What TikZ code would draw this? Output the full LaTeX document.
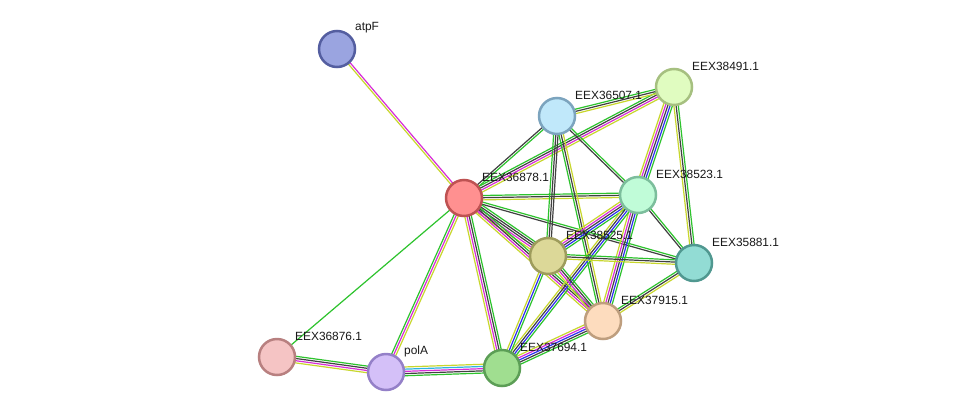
\documentclass[tikz,border=0pt]{standalone}
\usepackage{fontspec}
\setmainfont{Liberation Sans}
\usetikzlibrary{calc}
\pgfdeclarelayer{background}
\pgfsetlayers{background,main}
\definecolor{eg}{RGB}{45,195,45}
\definecolor{ey}{RGB}{200,215,45}
\definecolor{ek}{RGB}{65,65,65}
\definecolor{em}{RGB}{215,45,215}
\definecolor{eb}{RGB}{45,45,240}
\definecolor{ec}{RGB}{45,180,225}
\newcommand\bund[4]{%
  \foreach[count=\i] \c in {#4}{%
    \pgfmathsetmacro\oo{(\i-(#3+1)/2)*2.2}%
    \draw[\c,line width=1.2pt] ($(#1.center)!\oo pt!90:(#2.center)$) -- ($(#2.center)!\oo pt!-90:(#1.center)$);
  }}
\tikzset{
  prot/.style={circle,minimum size=36pt,inner sep=0pt,line width=2.5pt},
  lab/.style={anchor=west,font=\fontsize{11.9}{13}\selectfont,inner sep=0pt,text=black!90}
}
\begin{document}
\begin{tikzpicture}[x=1pt,y=-1pt]
\useasboundingbox (0,0) rectangle (976,418);
\node[prot,fill={rgb,255:red,154;green,164;blue,224},draw={rgb,255:red,84;green,94;blue,160}] (atpF) at (337,49) {};
\node[prot,fill={rgb,255:red,255;green,144;blue,144},draw={rgb,255:red,190;green,82;blue,82}] (n36878) at (464,198) {};
\node[prot,fill={rgb,255:red,192;green,232;blue,250},draw={rgb,255:red,124;green,164;blue,190}] (n36507) at (557,116) {};
\node[prot,fill={rgb,255:red,224;green,252;blue,192},draw={rgb,255:red,166;green,192;blue,128}] (n38491) at (674,87) {};
\node[prot,fill={rgb,255:red,192;green,252;blue,216},draw={rgb,255:red,124;green,190;blue,156}] (n38523) at (638,195) {};
\node[prot,fill={rgb,255:red,220;green,216;blue,152},draw={rgb,255:red,158;green,156;blue,92}] (n38525) at (548,256) {};
\node[prot,fill={rgb,255:red,146;green,220;blue,212},draw={rgb,255:red,80;green,152;blue,144}] (n35881) at (694,263) {};
\node[prot,fill={rgb,255:red,253;green,220;blue,190},draw={rgb,255:red,190;green,158;blue,126}] (n37915) at (603,321) {};
\node[prot,fill={rgb,255:red,160;green,222;blue,144},draw={rgb,255:red,92;green,158;blue,86}] (n37694) at (502,368) {};
\node[prot,fill={rgb,255:red,212;green,192;blue,248},draw={rgb,255:red,148;green,128;blue,200}] (polA) at (386,372) {};
\node[prot,fill={rgb,255:red,245;green,196;blue,196},draw={rgb,255:red,184;green,128;blue,128}] (n36876) at (277,357) {};
\begin{pgfonlayer}{background}
\fill[white] (0,0) rectangle (976,418);
\bund{atpF}{n36878}{2}{ey,em}
\bund{n36878}{n36507}{2}{eg,ek}
\bund{n36878}{n38491}{4}{ey,em,ek,eg}
\bund{n36878}{n38523}{3}{ey,ek,eg}
\bund{n36878}{n35881}{2}{ek,eg}
\bund{n36878}{n38525}{5}{ey,em,ek,ek,eg}
\bund{n36878}{n37915}{4}{ey,em,ek,eg}
\bund{n36878}{n37694}{4}{ey,em,ek,eg}
\bund{n36878}{polA}{3}{eg,em,ey}
\bund{n36878}{n36876}{1}{eg}
\bund{n36507}{n38491}{3}{ey,ek,eg}
\bund{n36507}{n38523}{2}{ek,eg}
\bund{n36507}{n38525}{3}{eg,ek,ek}
\bund{n36507}{n37915}{3}{eg,ek,ey}
\bund{n38491}{n38523}{5}{ey,em,ek,eb,eg}
\bund{n38491}{n35881}{3}{ey,ek,eg}
\bund{n38523}{n35881}{2}{ek,eg}
\bund{n38523}{n38525}{5}{ey,em,ek,eb,eg}
\bund{n38523}{n37915}{5}{ey,em,ek,eb,eg}
\bund{n38523}{n37694}{4}{ey,ek,eb,eg}
\bund{n38525}{n35881}{3}{ey,ek,eg}
\bund{n38525}{n37915}{4}{ey,em,ek,eg}
\bund{n38525}{n37694}{3}{ey,eb,eg}
\bund{n37915}{n35881}{3}{ey,ek,eg}
\bund{n37915}{n37694}{5}{ey,em,eb,ek,eg}
\bund{n36876}{polA}{4}{ey,em,ek,eg}
\bund{polA}{n37694}{5}{eg,ek,em,ec,ey}
\end{pgfonlayer}
\node[lab] (latpF) at ($(atpF)+(18,-21)$) {atpF};
\node[lab] (l36878) at ($(n36878)+(18,-21)$) {EEX36878.1};
\node[lab] (l36507) at ($(n36507)+(18,-21)$) {EEX36507.1};
\node[lab] (l38491) at ($(n38491)+(18,-21)$) {EEX38491.1};
\node[lab] (l38523) at ($(n38523)+(18,-21)$) {EEX38523.1};
\node[lab] (l38525) at ($(n38525)+(18,-21)$) {EEX38525.1};
\node[lab] (l35881) at ($(n35881)+(18,-21)$) {EEX35881.1};
\node[lab] (l37915) at ($(n37915)+(18,-21)$) {EEX37915.1};
\node[lab] (l37694) at ($(n37694)+(18,-21)$) {EEX37694.1};
\node[lab] (lpolA) at ($(polA)+(18,-21)$) {polA};
\node[lab] (l36876) at ($(n36876)+(18,-21)$) {EEX36876.1};
\end{tikzpicture}
\end{document}
